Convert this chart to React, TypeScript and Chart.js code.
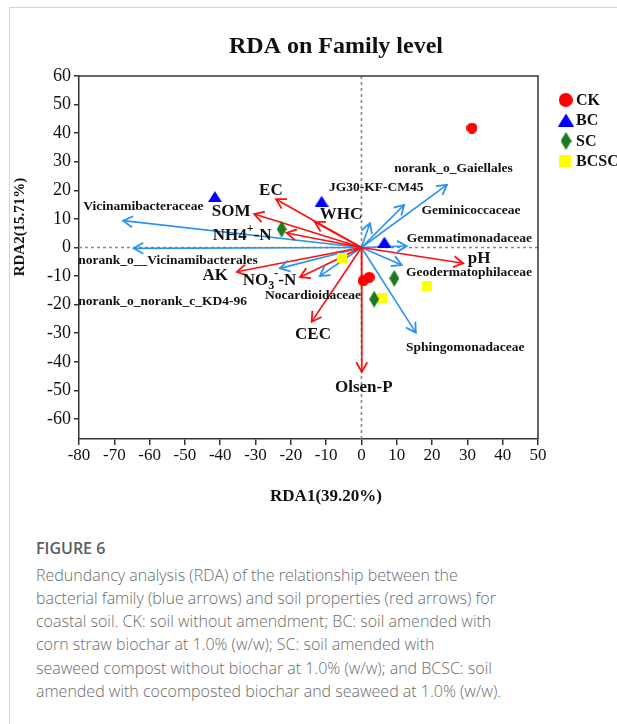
import React, { useEffect, useRef } from "react";
import { Chart, registerables } from "chart.js";

Chart.register(...registerables);

// ---------- axis settings ----------
const X_MIN = -80;
const X_MAX = 50;
const Y_MIN = -67;
const Y_MAX = 60;
const TICK_STEP = 10;

// ---------- sample scores ----------
const CK_X = [31.3, 0.5, 2.2];
const CK_Y = [41.8, -11.6, -10.4];
const BC_X = [-41.5, -11.3, 6.5];
const BC_Y = [17.8, 16.2, 1.9];
const SC_X = [-22.6, 9.3, 3.6];
const SC_Y = [6.4, -10.8, -18.1];
const BCSC_X = [-5.4, 5.9, 18.5];
const BCSC_Y = [-3.8, -17.6, -13.5];

// ---------- soil property arrows (red) ----------
const SOIL_NAMES = ["EC", "SOM", "NH4+-N", "WHC", "AK", "NO3--N", "CEC", "Olsen-P", "pH"];
const SOIL_X = [-24.2, -30.4, -21.2, -13.2, -35.3, -17.4, -14.1, 0.1, 28.8];
const SOIL_Y = [16.9, 11.7, 5.1, 8.9, -8.5, -10.4, -26.0, -43.5, -5.5];
const SOIL_LABEL_X = [-29.0, -42.4, -42.1, -11.8, -45.0, -33.6, -18.8, -7.5, 30.1];
const SOIL_LABEL_Y = [19.8, 12.5, 4.1, 11.6, -10.0, -11.6, -30.6, -48.9, -3.8];

// ---------- bacterial family arrows (blue) ----------
const FAMILY_NAMES = [
  "Vicinamibacteraceae",
  "norank_o__Vicinamibacterales",
  "norank_o_norank_c_KD4-96",
  "Nocardioidaceae",
  "norank_o_Gaiellales",
  "Geminicoccaceae",
  "JG30-KF-CM45",
  "Gemmatimonadaceae",
  "Geodermatophilaceae",
  "Sphingomonadaceae",
];
const FAMILY_X = [-67.5, -64.5, -23.1, -11.8, 24.2, 12.1, 2.4, 12.8, 11.4, 15.4];
const FAMILY_Y = [9.4, -0.3, -7.3, -10.0, 21.9, 14.9, 8.5, 0.5, -6.1, -29.8];
const FAMILY_LABEL_X = [-78.8, -80.2, -80.2, -27.3, 9.3, 17.0, -9.2, 12.8, 12.6, 12.6];
const FAMILY_LABEL_Y = [14.3, -4.7, -19.0, -16.7, 27.7, 12.9, 20.9, 3.2, -8.8, -35.1];

const LEGEND_NAMES = ["CK", "BC", "SC", "BCSC"];

const SERIF = '"Liberation Serif", "Times New Roman", serif';
const RED = "#ff1010";
const BLUE = "#2a93f2";

function makeMarker(kind: string, w: number, h: number, color: string) {
  const c = document.createElement("canvas");
  c.width = w;
  c.height = h;
  const ctx = c.getContext("2d")!;
  ctx.fillStyle = color;
  ctx.beginPath();
  if (kind === "circle") {
    ctx.arc(w / 2, h / 2, w / 2, 0, Math.PI * 2);
  } else if (kind === "triangle") {
    ctx.moveTo(w / 2, 0);
    ctx.lineTo(w, h);
    ctx.lineTo(0, h);
    ctx.closePath();
  } else if (kind === "diamond") {
    ctx.moveTo(w / 2, 0);
    ctx.lineTo(w, h / 2);
    ctx.lineTo(w / 2, h);
    ctx.lineTo(0, h / 2);
    ctx.closePath();
  } else {
    ctx.rect(0, 0, w, h);
  }
  ctx.fill();
  return c;
}

function zip(xs: number[], ys: number[]) {
  return xs.map((x, i) => ({ x, y: ys[i] }));
}

type Part = { t: string; sub?: boolean; sup?: boolean };
function richParts(name: string): Part[] {
  if (name === "NH4+-N") return [{ t: "NH4" }, { t: "+", sup: true }, { t: "-N" }];
  if (name === "NO3--N") return [{ t: "NO" }, { t: "3", sub: true }, { t: "-", sup: true }, { t: "-N" }];
  return [{ t: name }];
}

function drawRich(ctx: CanvasRenderingContext2D, name: string, x: number, y: number, size: number) {
  const parts = richParts(name);
  let cx = x;
  for (const p of parts) {
    const small = p.sub || p.sup;
    const s = small ? Math.round(size * 0.7) : size;
    ctx.font = `bold ${s}px ${SERIF}`;
    const dy = p.sub ? size * 0.3 : p.sup ? -size * 0.38 : 0;
    ctx.fillText(p.t, cx, y + dy);
    cx += ctx.measureText(p.t).width;
  }
}

export default function App() {
  const ref = useRef<HTMLCanvasElement>(null);

  useEffect(() => {
    const canvas = ref.current;
    if (!canvas) return;

    const mCircle = makeMarker("circle", 11, 11, "#ff0000");
    const mTri = makeMarker("triangle", 14, 11, "#0000ff");
    const mDia = makeMarker("diamond", 10, 17, "#1f7a1f");
    const mSq = makeMarker("square", 10, 10, "#ffff00");
    const legendMarkers = [
      makeMarker("circle", 14, 14, "#ff0000"),
      makeMarker("triangle", 16, 13, "#0000ff"),
      makeMarker("diamond", 11, 18, "#1f7a1f"),
      makeMarker("square", 12, 12, "#ffff00"),
    ];

    const markerSets: any[] = [
      { label: "CK", data: zip(CK_X, CK_Y), pointStyle: mCircle },
      { label: "BC", data: zip(BC_X, BC_Y), pointStyle: mTri },
      { label: "SC", data: zip(SC_X, SC_Y), pointStyle: mDia },
      { label: "BCSC", data: zip(BCSC_X, BCSC_Y), pointStyle: mSq },
    ].map((d) => ({ ...d, pointRadius: 6, showLine: false }));

    const arrowSets: any[] = [];
    SOIL_NAMES.forEach((n, i) => {
      arrowSets.push({
        label: n,
        arrow: RED,
        labelX: SOIL_LABEL_X[i],
        labelY: SOIL_LABEL_Y[i],
        labelSize: 17,
        data: [{ x: 0, y: 0 }, { x: SOIL_X[i], y: SOIL_Y[i] }],
        showLine: true,
        borderColor: RED,
        borderWidth: 1.6,
        pointRadius: 0,
      });
    });
    FAMILY_NAMES.forEach((n, i) => {
      arrowSets.push({
        label: n,
        arrow: BLUE,
        labelX: FAMILY_LABEL_X[i],
        labelY: FAMILY_LABEL_Y[i],
        labelSize: 13.5,
        data: [{ x: 0, y: 0 }, { x: FAMILY_X[i], y: FAMILY_Y[i] }],
        showLine: true,
        borderColor: BLUE,
        borderWidth: 1.6,
        pointRadius: 0,
      });
    });

    const rdaPlugin = {
      id: "rda",
      beforeDatasetsDraw(chart: any) {
        const { ctx, chartArea: a, scales } = chart;
        const x0 = scales.x.getPixelForValue(0);
        const y0 = scales.y.getPixelForValue(0);
        ctx.save();
        ctx.strokeStyle = "#8a8a8a";
        ctx.lineWidth = 1.6;
        ctx.setLineDash([3, 3]);
        ctx.beginPath();
        ctx.moveTo(a.left, y0);
        ctx.lineTo(a.right, y0);
        ctx.moveTo(x0, a.top);
        ctx.lineTo(x0, a.bottom);
        ctx.stroke();
        ctx.restore();
      },
      afterDatasetsDraw(chart: any) {
        const { ctx, scales } = chart;
        ctx.save();
        chart.data.datasets.forEach((ds: any, i: number) => {
          if (!ds.arrow) return;
          const meta = chart.getDatasetMeta(i);
          const p0 = meta.data[0];
          const p1 = meta.data[1];
          const ang = Math.atan2(p1.y - p0.y, p1.x - p0.x);
          const L = 11;
          const h = Math.PI / 6;
          ctx.strokeStyle = ds.arrow;
          ctx.lineWidth = 1.8;
          ctx.setLineDash([]);
          ctx.beginPath();
          ctx.moveTo(p1.x - L * Math.cos(ang - h), p1.y - L * Math.sin(ang - h));
          ctx.lineTo(p1.x, p1.y);
          ctx.lineTo(p1.x - L * Math.cos(ang + h), p1.y - L * Math.sin(ang + h));
          ctx.stroke();
        });
        ctx.fillStyle = "#111";
        ctx.textAlign = "left";
        ctx.textBaseline = "middle";
        chart.data.datasets.forEach((ds: any) => {
          if (!ds.arrow) return;
          const lx = scales.x.getPixelForValue(ds.labelX);
          const ly = scales.y.getPixelForValue(ds.labelY);
          drawRich(ctx, ds.label, lx, ly, ds.labelSize);
        });
        ctx.restore();
      },
      afterDraw(chart: any) {
        const { ctx, chartArea: a } = chart;
        ctx.save();
        // top and right frame lines
        ctx.strokeStyle = "#333";
        ctx.lineWidth = 1.5;
        ctx.beginPath();
        ctx.moveTo(a.left, a.top);
        ctx.lineTo(a.right, a.top);
        ctx.lineTo(a.right, a.bottom);
        ctx.stroke();
        // title
        ctx.fillStyle = "#111";
        ctx.textAlign = "center";
        ctx.textBaseline = "middle";
        ctx.font = `bold 24px ${SERIF}`;
        ctx.fillText("RDA on Family level", 336, 47);
        // axis titles
        ctx.font = `bold 17px ${SERIF}`;
        ctx.fillText("RDA1(39.20%)", 326, 497);
        ctx.save();
        ctx.translate(20, 227);
        ctx.rotate(-Math.PI / 2);
        ctx.font = `bold 15px ${SERIF}`;
        ctx.fillText("RDA2(15.71%)", 0, 0);
        ctx.restore();
        // legend
        const lx = [565.7, 566, 566, 565];
        const ly = [100, 120, 141, 161];
        ctx.textAlign = "left";
        ctx.font = `bold 16px ${SERIF}`;
        LEGEND_NAMES.forEach((n, i) => {
          const m = legendMarkers[i];
          ctx.drawImage(m, lx[i] - m.width / 2, ly[i] - m.height / 2);
          ctx.fillText(n, 576, ly[i] + 1);
        });
        ctx.restore();
      },
    };

    const chart = new Chart(canvas, {
      type: "scatter",
      data: { datasets: [...markerSets, ...arrowSets] },
      options: {
        animation: false,
        responsive: false,
        events: [],
        layout: { padding: { left: 0, top: 76, right: 79, bottom: 0 } },
        plugins: {
          legend: { display: false },
          tooltip: { enabled: false },
          title: { display: false },
        },
        scales: {
          x: {
            type: "linear",
            min: X_MIN,
            max: X_MAX,
            ticks: {
              stepSize: TICK_STEP,
              includeBounds: false,
              autoSkip: false,
              maxRotation: 0,
              padding: 0,
              color: "#111",
              font: { family: SERIF, size: 17 },
            },
            grid: { display: true, drawOnChartArea: false, drawTicks: true, tickLength: 6, color: "#333", lineWidth: 1.5 },
            border: { display: true, color: "#333", width: 1.5 },
            afterFit: (s: any) => {
              s.height = 76;
            },
          },
          y: {
            type: "linear",
            min: Y_MIN,
            max: Y_MAX,
            ticks: {
              stepSize: TICK_STEP,
              includeBounds: false,
              autoSkip: false,
              padding: 3,
              color: "#111",
              font: { family: SERIF, size: 18 },
            },
            grid: { display: true, drawOnChartArea: false, drawTicks: true, tickLength: 5, color: "#333", lineWidth: 1.5 },
            border: { display: true, color: "#333", width: 1.5 },
            afterFit: (s: any) => {
              s.width = 79;
            },
          },
        },
      } as any,
      plugins: [rdaPlugin as any],
    });

    return () => chart.destroy();
  }, []);

  const capStyle: React.CSSProperties = {
    position: "absolute",
    left: 36,
    fontFamily: '"Open Sans", "Noto Sans", sans-serif',
    fontSize: 16,
    lineHeight: "23.33px",
    color: "#6b6b6b",
    whiteSpace: "nowrap",
  };

  return (
    <div style={{ position: "fixed", left: 0, top: 0, width: 617, height: 724, background: "#fff", overflow: "hidden" }}>
      <div
        style={{
          position: "absolute",
          left: 9,
          top: 7,
          width: 608,
          height: 717,
          borderTop: "1px solid #d4d4d4",
          borderLeft: "1px solid #d4d4d4",
          boxSizing: "border-box",
        }}
      />
      <canvas ref={ref} width={617} height={515} style={{ position: "absolute", left: 0, top: 0, width: 617, height: 515 }} />
      <div style={{ ...capStyle, top: 536.5, fontWeight: 600, fontSize: 16, color: "#5c5c5c" }}>FIGURE 6</div>
      <div style={{ ...capStyle, top: 563.5, fontWeight: 300 }}>
        Redundancy analysis (RDA) of the relationship between the
        <br />
        bacterial family (blue arrows) and soil properties (red arrows) for
        <br />
        coastal soil. CK: soil without amendment; BC: soil amended with
        <br />
        corn straw biochar at 1.0% (w/w); SC: soil amended with
        <br />
        seaweed compost without biochar at 1.0% (w/w); and BCSC: soil
        <br />
        amended with cocomposted biochar and seaweed at 1.0% (w/w).
      </div>
    </div>
  );
}
